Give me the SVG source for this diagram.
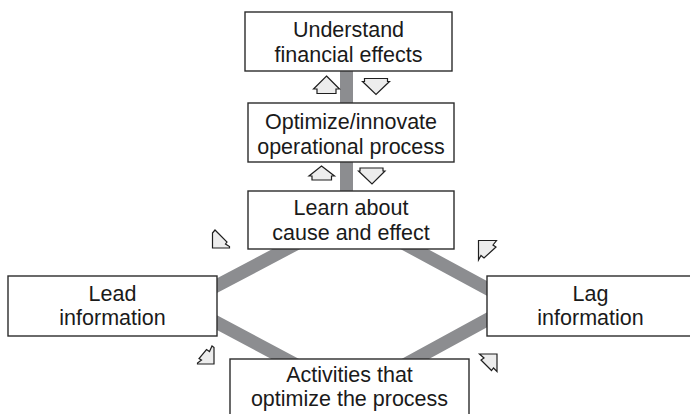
<svg xmlns="http://www.w3.org/2000/svg" width="690" height="414" viewBox="0 0 690 414">
  <style>
    .box { fill: #ffffff; stroke: #2b2b2b; stroke-width: 1.4; }
    .bar { fill: none; stroke: #8c8d90; stroke-width: 13; stroke-linejoin: miter; }
    .arr { fill: #ededed; stroke: #1f1f1f; stroke-width: 1.2; stroke-linejoin: miter; }
    text { font-family: "Liberation Sans", Arial, Helvetica, sans-serif; font-size: 21.5px; fill: #1a1a1a; text-anchor: middle; }
  </style>
  <rect width="690" height="414" fill="#ffffff"/>
  <g id="connectors">
    <line class="bar" x1="346.5" y1="70" x2="346.5" y2="192"/>
    <path class="bar" d="M351,215 L182,304 L351,394 L516,304 Z"/>
  </g>
  <g id="node-understand">
    <rect class="box" x="245" y="12" width="207" height="59"/>
    <text x="348.5" y="37">Understand</text>
    <text x="348.5" y="61.5">financial effects</text>
  </g>
  <g id="node-optimize">
    <rect class="box" x="248" y="103" width="206" height="59"/>
    <text x="351" y="129">Optimize/innovate</text>
    <text x="351" y="153.5">operational process</text>
  </g>
  <g id="node-learn">
    <rect class="box" x="248" y="191" width="206" height="58"/>
    <text x="351" y="214.5">Learn about</text>
    <text x="351" y="239.5">cause and effect</text>
  </g>
  <g id="node-lead">
    <rect class="box" x="8" y="276" width="209" height="60"/>
    <text x="112.5" y="300.5">Lead</text>
    <text x="112.5" y="325">information</text>
  </g>
  <g id="node-lag">
    <rect class="box" x="487" y="276" width="210" height="60"/>
    <text x="590.5" y="300.5">Lag</text>
    <text x="590.5" y="325">information</text>
  </g>
  <g id="node-activities">
    <rect class="box" x="230" y="359" width="239" height="70"/>
    <text x="349.5" y="382">Activities that</text>
    <text x="349.5" y="406">optimize the process</text>
  </g>
  <g id="flow-arrows">
    <polygon class="arr" points="326.5,76 339.5,89 336,89 336,93.5 317,93.5 317,89 313.5,89"/>
    <polygon class="arr" points="364.5,78.5 387.5,78.5 387.5,81.5 389.5,81.5 376,94.5 362.5,81.5 364.5,81.5"/>
    <polygon class="arr" points="321.5,166 334.5,176 331.5,176 331.5,180 312,180 312,176 309,176"/>
    <polygon class="arr" points="360,168 383,168 383,171 385,171 372,184 358.5,171 360,171"/>
    <polygon class="arr" points="212.5,233 215,230 218.5,233.5 227,242 225.5,244 229.5,246.5 229.5,248 212.5,248"/>
    <polygon class="arr" points="478.5,240.5 496.5,240.5 493,245 496,247 484,258 481,255.5 478.5,260"/>
    <polygon class="arr" points="214,347.5 212,346 209.5,351.5 206.5,349.5 199,358.5 201.5,360 197.5,363 197.5,364 214,364"/>
    <polygon class="arr" points="479.5,354 497,354 497,371.5 493.5,368 491.5,370.5 481,360 484,358"/>
  </g>
</svg>
